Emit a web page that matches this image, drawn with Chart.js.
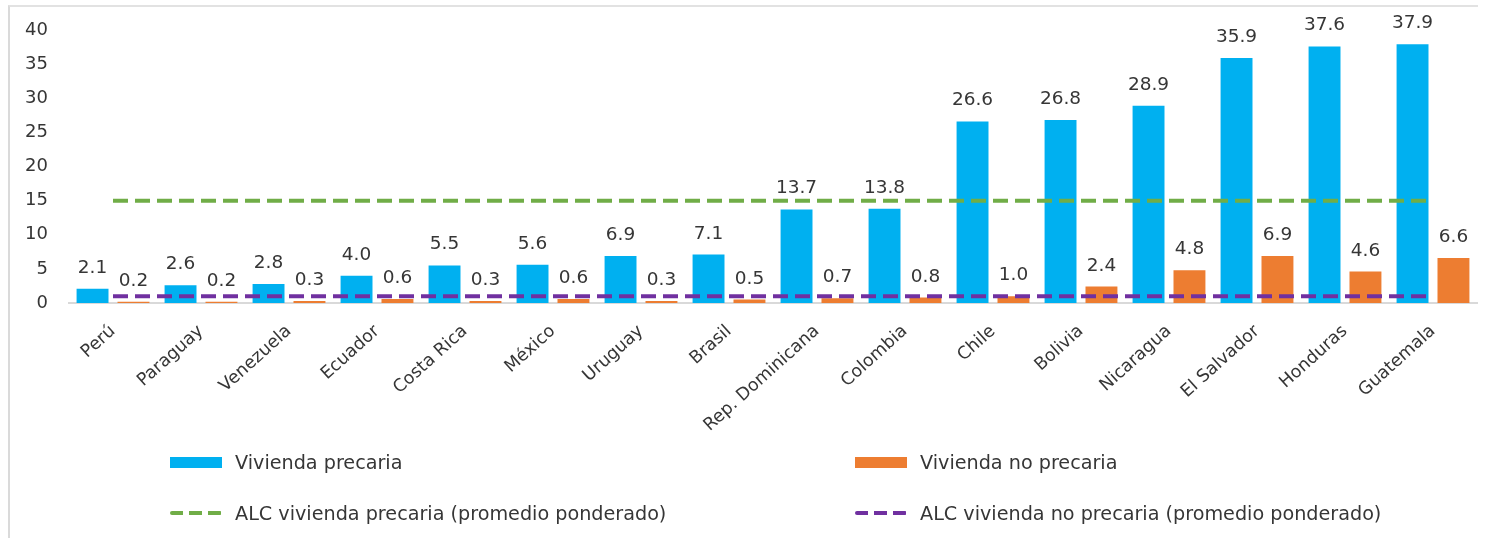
<!DOCTYPE html>
<html>
<head>
<meta charset="utf-8">
<script src="https://cdn.jsdelivr.net/npm/chart.js@4.4.1/dist/chart.umd.min.js"></script>
<style>
  html, body { margin: 0; padding: 0; background: #fff; }
  #wrap { position: relative; width: 1486px; height: 538px; overflow: hidden; }
  #frame { position: absolute; left: 8px; top: 5px; width: 1468px; height: 560px;
           border-left: 2px solid #dadada; border-top: 2px solid #e2e2e2; }
  canvas { position: absolute; left: 0; top: 0; }
  .leg { position: absolute; font-family: "DejaVu Sans", sans-serif; font-size: 19.2px; color: #363636;
         white-space: nowrap; display: flex; align-items: center; }
  .sw { display: inline-block; width: 52px; margin-right: 13px; }
  .solid { height: 11px; }
  .dash { height: 4px; border-radius: 2px; }
</style>
</head>
<body>
<div id="wrap">
  <div id="frame"></div>
  <canvas id="chart" width="1486" height="538"></canvas>
  <div id="legend"></div>
</div>
<script>
const categories = ['Perú', 'Paraguay', 'Venezuela', 'Ecuador', 'Costa Rica', 'México', 'Uruguay', 'Brasil',
    'Rep. Dominicana', 'Colombia', 'Chile', 'Bolivia', 'Nicaragua', 'El Salvador', 'Honduras', 'Guatemala'];
const viviendaPrecaria = [2.1, 2.6, 2.8, 4.0, 5.5, 5.6, 6.9, 7.1, 13.7, 13.8, 26.6, 26.8, 28.9, 35.9, 37.6, 37.9];
const viviendaNoPrecaria = [0.2, 0.2, 0.3, 0.6, 0.3, 0.6, 0.3, 0.5, 0.7, 0.8, 1.0, 2.4, 4.8, 6.9, 4.6, 6.6];
const alcPrecaria = [15, 15, 15, 15, 15, 15, 15, 15, 15, 15, 15, 15, 15, 15, 15, 15];
const alcNoPrecaria = [1, 1, 1, 1, 1, 1, 1, 1, 1, 1, 1, 1, 1, 1, 1, 1];
const yTicks = [0, 5, 10, 15, 20, 25, 30, 35, 40];

const BLUE = '#00b0f0';
const ORANGE = '#ed7d31';
const GREEN = '#70ad47';
const PURPLE = '#7030a0';
const TEXT = '#363636';
const FONT = '"DejaVu Sans", sans-serif';

// etiquetas de valor encima de las barras
const barLabels = {
    id: 'barLabels',
    afterDatasetsDraw(chart) {
        const c = chart.ctx;
        c.save();
        c.font = '18.5px ' + FONT;
        c.fillStyle = TEXT;
        c.textAlign = 'center';
        c.textBaseline = 'alphabetic';
        chart.data.datasets.forEach((ds, i) => {
            if (ds.type !== 'bar') return;
            chart.getDatasetMeta(i).data.forEach((el, j) => {
                c.fillText(ds.data[j].toFixed(1), el.x, el.y - 16);
            });
        });
        c.restore();
    }
};

const datasets = [
    {
        type: 'line', label: 'ALC vivienda precaria (promedio ponderado)', data: alcPrecaria,
        borderColor: GREEN, borderWidth: 4, borderDash: [15, 7], pointRadius: 0, order: 0
    },
    {
        type: 'line', label: 'ALC vivienda no precaria (promedio ponderado)', data: alcNoPrecaria,
        borderColor: PURPLE, borderWidth: 4, borderDash: [15, 7], pointRadius: 0, order: 0
    },
    {
        type: 'bar', label: 'Vivienda precaria', data: viviendaPrecaria, backgroundColor: BLUE,
        categoryPercentage: 0.93, barPercentage: 0.78, order: 1
    },
    {
        type: 'bar', label: 'Vivienda no precaria', data: viviendaNoPrecaria, backgroundColor: ORANGE,
        categoryPercentage: 0.93, barPercentage: 0.78, order: 1
    }
];

new Chart(document.getElementById('chart').getContext('2d'), {
    data: { labels: categories, datasets: datasets },
    options: {
        responsive: false,
        animation: false,
        layout: { padding: { top: 30, right: 9, left: 0, bottom: 0 } },
        plugins: { legend: { display: false }, tooltip: { enabled: false } },
        scales: {
            x: {
                offset: true,
                grid: { display: false },
                border: { display: true, color: '#d9d9d9', width: 2 },
                ticks: {
                    color: TEXT, font: { family: FONT, size: 17.5 },
                    minRotation: 42, maxRotation: 42, padding: 10, autoSkip: false
                },
                afterFit(scale) { scale.height = 235; }
            },
            y: {
                min: 0, max: 40,
                grid: { display: false },
                border: { display: false },
                afterBuildTicks(scale) { scale.ticks = yTicks.map(v => ({ value: v })); },
                ticks: { color: TEXT, font: { family: FONT, size: 18 }, padding: 13 },
                afterFit(scale) { scale.width = 69; }
            }
        }
    },
    plugins: [barLabels]
});

// leyenda en dos columnas
const legendItems = [
    { text: 'Vivienda precaria', color: BLUE, kind: 'solid', x: 170, y: 462 },
    { text: 'Vivienda no precaria', color: ORANGE, kind: 'solid', x: 855, y: 462 },
    { text: 'ALC vivienda precaria (promedio ponderado)', color: GREEN, kind: 'dash', x: 170, y: 513 },
    { text: 'ALC vivienda no precaria (promedio ponderado)', color: PURPLE, kind: 'dash', x: 855, y: 513 }
];
const legend = document.getElementById('legend');
legendItems.forEach(it => {
    const row = document.createElement('div');
    row.className = 'leg';
    row.style.left = it.x + 'px';
    row.style.top = (it.y - 12) + 'px';
    row.style.height = '24px';
    const sw = document.createElement('span');
    sw.className = 'sw ' + it.kind;
    if (it.kind === 'solid') {
        sw.style.background = it.color;
    } else {
        sw.style.background = `repeating-linear-gradient(to right, ${it.color} 0 13px, transparent 13px 19px)`;
    }
    const label = document.createElement('span');
    label.textContent = it.text;
    row.appendChild(sw);
    row.appendChild(label);
    legend.appendChild(row);
});
</script>
</body>
</html>
